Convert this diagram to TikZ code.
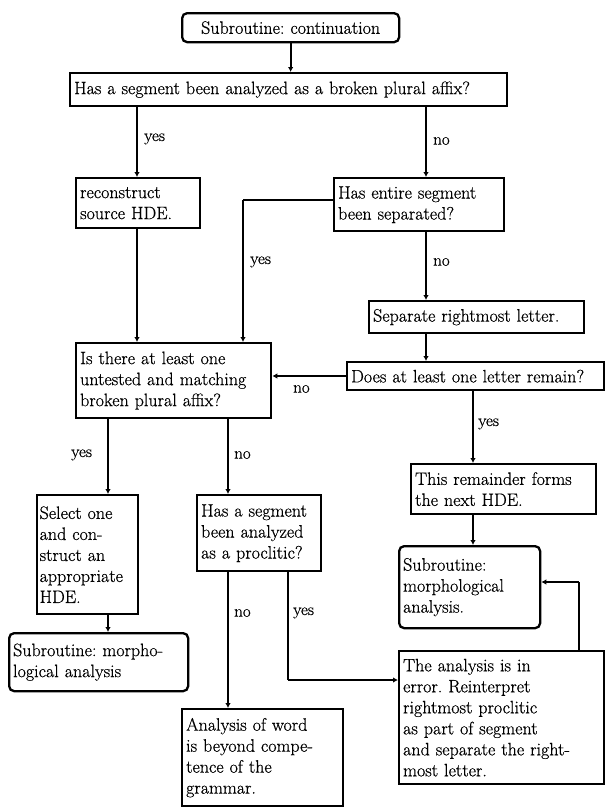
\documentclass[tikz,border=0pt]{standalone}
\usepackage{fontspec}
\setmainfont{Latin Modern Roman}[FakeBold=0.6]
\usetikzlibrary{arrows.meta}
% text face: a touch larger with loose word spacing
\newcommand{\boxfont}{\fontsize{18}{21}\selectfont\frenchspacing\spaceskip=0.48em plus 0.1em minus 0.05em\relax}
\tikzset{
  box/.style={draw, line width=2.3pt, anchor=north west, align=left,
    inner xsep=4pt, inner ysep=3pt, font=\boxfont},
  rbox/.style={box, rounded corners=5pt},
  conn/.style={line width=2.1pt, -{Latex[length=5pt,width=5.5pt]}},
  plain/.style={line width=2.1pt},
  lbl/.style={anchor=west, inner sep=1pt, font=\fontsize{17}{19}\selectfont}
}
\begin{document}
\begin{tikzpicture}[x=1pt,y=-1pt]
\useasboundingbox (0,0) rectangle (605,807);

% boxes (top-left corner, width via text width, height via minimum height)
\node[rbox, text width=209pt, align=center, minimum height=29pt] (title) at (181,12) {Subroutine: continuation};
\node[box, text width=429pt, minimum height=33pt] (q1) at (69,72) {Has a segment been analyzed as a broken plural affix?};
\node[box, text width=116pt, minimum height=50pt] (rec) at (75,177) {reconstruct\\source HDE.};
\node[box, text width=162pt, minimum height=53pt] (q2) at (333,177) {Has entire segment\\been separated?};
\node[box, text width=207pt, minimum height=32pt] (sep) at (368,300) {Separate rightmost letter.};
\node[box, text width=187pt, minimum height=75pt] (q3) at (75,342) {Is there at least one\\untested and matching\\broken plural affix?};
\node[box, text width=249pt, minimum height=28pt] (q4) at (346,361) {Does at least one letter remain?};
\node[box, text width=177pt, minimum height=50pt] (rem) at (410,463) {This remainder forms\\the next HDE.};
\node[box, inner xsep=2.5pt, text width=96pt, minimum height=119pt] (sel) at (36,494) {Select one\\and con-\\struct an\\appropriate\\HDE.};
\node[box, text width=116pt, minimum height=76pt] (q5) at (196,494) {Has a segment\\been analyzed\\as a proclitic?};
\node[rbox, text width=133pt, minimum height=82pt] (subR) at (398,545) {Subroutine:\\morphological\\analysis.};
\node[rbox, text width=171pt, minimum height=58pt] (subL) at (8,632) {Subroutine: morpho-\\logical analysis};
\node[box, text width=197pt, minimum height=133pt] (err) at (398,650) {The analysis is in\\error. Reinterpret\\rightmost proclitic\\as part of segment\\and separate the right-\\most letter.};
\node[box, text width=153pt, minimum height=97pt] (beyond) at (181,708) {Analysis of word\\is beyond compe-\\tence of the\\grammar.};

% column and row guides for the connectors
\coordinate (cA) at (108,0);
\coordinate (cB) at (137,0);
\coordinate (cC) at (228,0);
\coordinate (cD) at (243,0);
\coordinate (cE) at (288,0);
\coordinate (cF) at (426,0);
\coordinate (cG) at (473,0);
\coordinate (cH) at (579,0);
\coordinate (rA) at (0,200);
\coordinate (rB) at (0,376);
\coordinate (rC) at (0,680);
\coordinate (rD) at (0,582);

% connectors
\draw[conn] (title.south) -- (title.south |- q1.north);
\draw[conn] (q1.south -| cB) -- (rec.north -| cB);
\draw[conn] (q1.south -| cF) -- (q2.north -| cF);
\draw[plain] (q2.west |- rA) -- (cD |- rA);
\draw[conn] (cD |- rA) -- (q3.north -| cD);
\draw[conn] (q2.south -| cF) -- (sep.north -| cF);
\draw[conn] (rec.south -| cB) -- (q3.north -| cB);
\draw[conn] (sep.south -| cF) -- (q4.north -| cF);
\draw[conn] (q4.west |- rB) -- (q3.east |- rB);
\draw[conn] (q4.south -| cG) -- (rem.north -| cG);
\draw[conn] (q3.south -| cA) -- (sel.north -| cA);
\draw[conn] (q3.south -| cC) -- (q5.north -| cC);
\draw[conn] (rem.south -| cG) -- (subR.north -| cG);
\draw[conn] (sel.south -| cA) -- (subL.north -| cA);
\draw[conn] (q5.south -| cC) -- (beyond.north -| cC);
\draw[plain] (q5.south -| cE) -- (cE |- rC);
\draw[conn] (cE |- rC) -- (err.west |- rC);
\draw[plain] (err.north -| cH) -- (cH |- rD);
\draw[conn] (cH |- rD) -- (subR.east |- rD);

% branch labels
\node[lbl] (l1) at (143,139) {yes};
\node[lbl] (l2) at (432,141) {no};
\node[lbl] (l3) at (249,262) {yes};
\node[lbl] (l4) at (432,262) {no};
\node[lbl] (l5) at (292,389) {no};
\node[lbl] (l6) at (477,424) {yes};
\node[lbl] (l7) at (70,455) {yes};
\node[lbl] (l8) at (233,455) {no};
\node[lbl] (l9) at (233,613) {no};
\node[lbl] (l10) at (292,613) {yes};
\end{tikzpicture}
\end{document}
